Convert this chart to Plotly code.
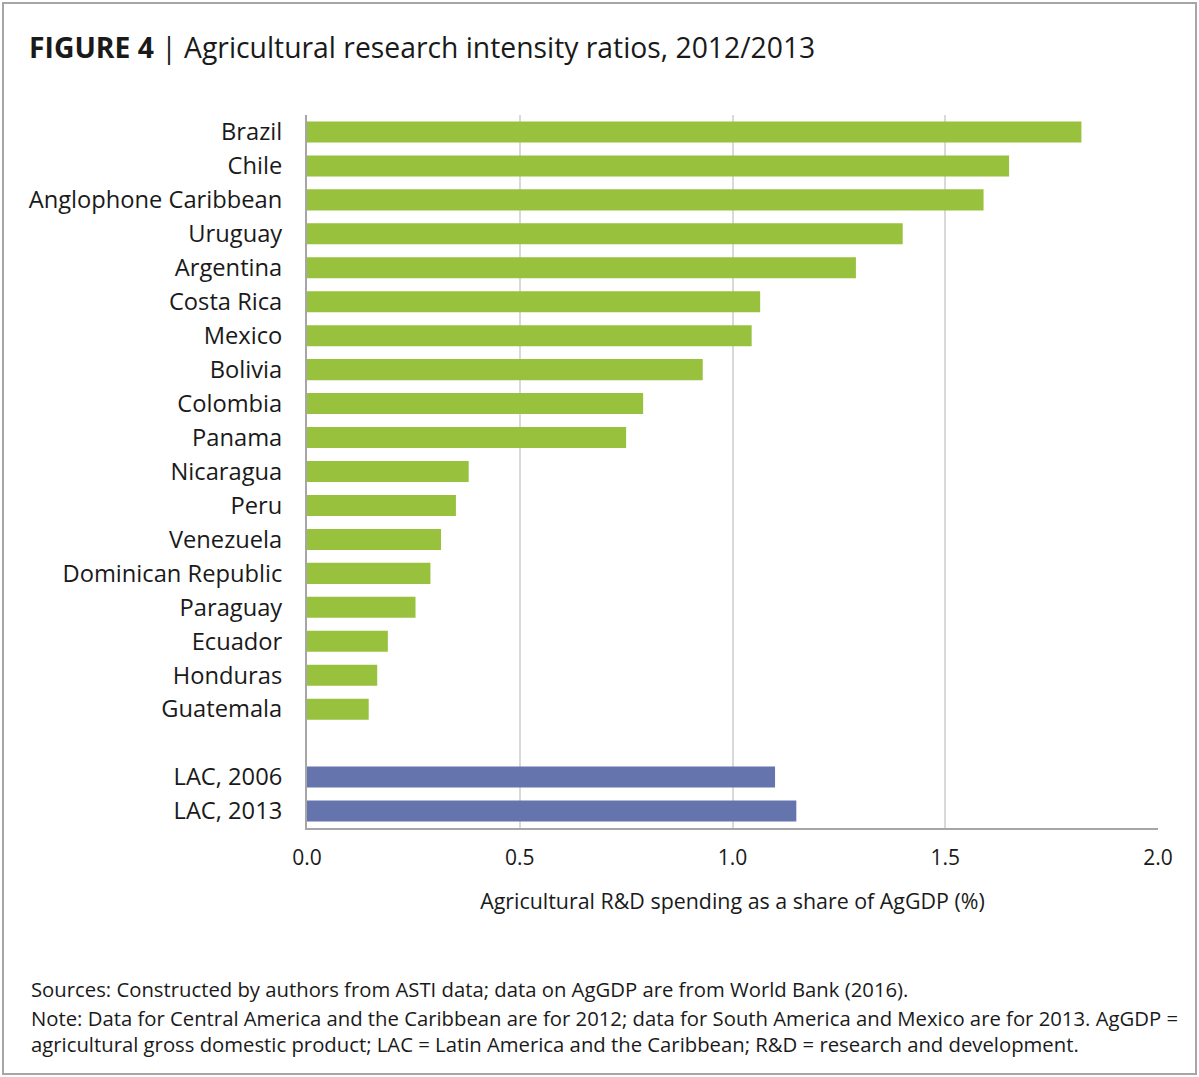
import plotly.graph_objects as go

countries = ["Brazil", "Chile", "Anglophone Caribbean", "Uruguay", "Argentina",
             "Costa Rica", "Mexico", "Bolivia", "Colombia", "Panama", "Nicaragua",
             "Peru", "Venezuela", "Dominican Republic", "Paraguay", "Ecuador",
             "Honduras", "Guatemala"]
country_values = [1.82, 1.65, 1.59, 1.40, 1.29, 1.065, 1.045, 0.93, 0.79, 0.75,
                  0.38, 0.35, 0.315, 0.29, 0.255, 0.19, 0.165, 0.145]

regions = ["LAC, 2006", "LAC, 2013"]
region_values = [1.10, 1.15]

spacer = " "
x_ticks = [0.0, 0.5, 1.0, 1.5, 2.0]
x_tick_labels = ["0.0", "0.5", "1.0", "1.5", "2.0"]

GREEN = "#98C13D"
BLUE = "#6674AE"
FONT = "Open Sans"
TXT = "#1a1a1a"

# figure geometry (pixels)
FW, FH = 1199, 1077
L, R, T, B = 307, 1158, 115, 828
PW, PH = R - L, B - T


def px(x):
    return (x - L) / PW


def py(y):
    return (B - y) / PH


categories = countries + [spacer] + regions

fig = go.Figure()
fig.add_trace(go.Bar(
    y=countries, x=country_values, orientation="h",
    marker=dict(color=GREEN, line=dict(width=0)), width=0.62,
    showlegend=False, hoverinfo="x+y"))
fig.add_trace(go.Bar(
    y=regions, x=region_values, orientation="h",
    marker=dict(color=BLUE, line=dict(width=0)), width=0.62,
    showlegend=False, hoverinfo="x+y"))

fig.update_layout(
    width=FW, height=FH,
    margin=dict(l=L, r=FW - R, t=T, b=FH - B, pad=0),
    paper_bgcolor="white", plot_bgcolor="white",
    font=dict(family=FONT, color=TXT),
    barmode="overlay",
)

fig.update_xaxes(
    range=[0, 2.0], tickvals=x_ticks, ticktext=x_tick_labels,
    showgrid=True, gridcolor="#d9d9d9", gridwidth=2,
    zeroline=False, showline=True, linecolor="#a6a6a6", linewidth=2,
    ticks="", tickfont=dict(size=21, family=FONT, color=TXT),
    ticklabelstandoff=10,
    title=dict(text="Agricultural R&D spending as a share of AgGDP (%)",
               font=dict(size=21.4, family=FONT, color=TXT), standoff=24),
)
fig.update_yaxes(
    type="category", categoryorder="array", categoryarray=categories,
    autorange="reversed",
    showgrid=False, zeroline=False, showline=True, linecolor="#a6a6a6", linewidth=2,
    ticks="", tickfont=dict(size=23.7, family=FONT, color=TXT),
    ticklabelstandoff=18,
)

annotations = [
    dict(text="<b>FIGURE 4</b> | Agricultural research intensity ratios, 2012/2013",
         x=px(27), y=py(47), xref="paper", yref="paper", xanchor="left", yanchor="middle",
         showarrow=False, font=dict(size=28.3, family=FONT, color=TXT)),
    dict(text="Sources: Constructed by authors from ASTI data; data on AgGDP are from World Bank (2016).",
         x=px(29), y=py(989), xref="paper", yref="paper", xanchor="left", yanchor="middle",
         showarrow=False, font=dict(size=20.3, family=FONT, color=TXT)),
    dict(text="Note: Data for Central America and the Caribbean are for 2012; data for South America and Mexico are for 2013. AgGDP =<br>"
              "agricultural gross domestic product; LAC = Latin America and the Caribbean; R&D = research and development.",
         x=px(29), y=py(1031), xref="paper", yref="paper", xanchor="left", yanchor="middle",
         align="left", showarrow=False, font=dict(size=20.3, family=FONT, color=TXT)),
]
fig.update_layout(annotations=annotations)

fig.add_shape(type="rect", xref="paper", yref="paper",
              x0=px(3), x1=px(1196), y0=py(1074), y1=py(3),
              line=dict(color="#a6a6a6", width=2), fillcolor="rgba(0,0,0,0)", layer="below")

fig.write_html("out.html", config={"displayModeBar": False},
               post_script="document.body.style.margin='0';document.body.style.overflow='hidden';")
